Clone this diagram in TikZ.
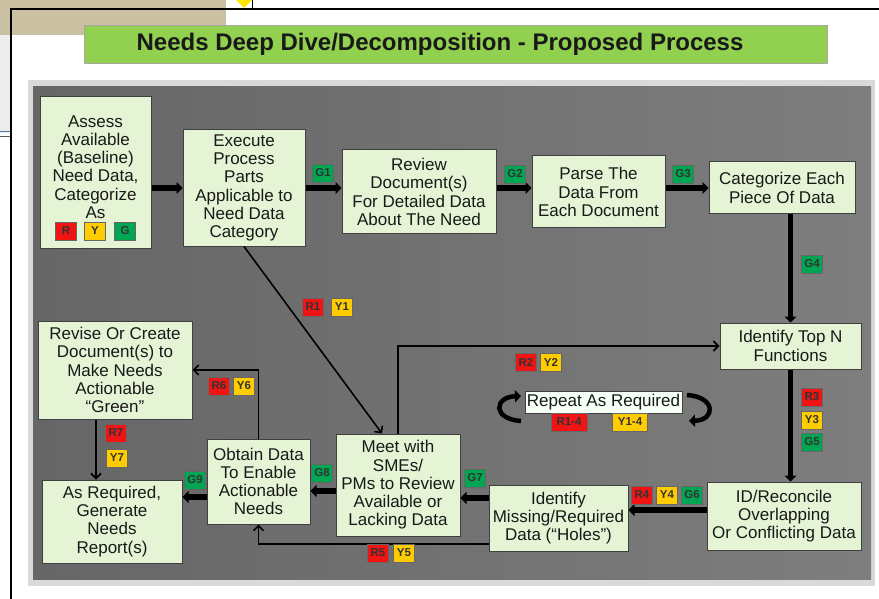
\documentclass[tikz,border=0pt]{standalone}
\usepackage{fontspec}
\setmainfont{Liberation Sans}
\usetikzlibrary{arrows.meta}
\definecolor{boxgreen}{HTML}{E4F4D4}
\definecolor{titlegreen}{HTML}{92D050}
\definecolor{tagred}{HTML}{F01414}
\definecolor{tagyellow}{HTML}{FFCC00}
\definecolor{taggreen}{HTML}{00A651}
\definecolor{tanbar}{HTML}{C9C1A2}
\definecolor{edgeblue}{HTML}{5273AE}
\begin{document}
\begin{tikzpicture}[x=1pt,y=-1pt,
    procbox/.style={draw=black!75,line width=1pt,fill=boxgreen,align=center,inner sep=0pt,
      text=black!90,font=\fontsize{17}{18.2}\selectfont},
    tag/.style={draw=black!60,line width=0.5pt,minimum width=21pt,minimum height=18pt,inner sep=0pt,
      text=black!80,font=\fontsize{11.5}{11.5}\selectfont\bfseries},
    rtag/.style={tag,fill=tagred},
    ytag/.style={tag,fill=tagyellow},
    gtag/.style={tag,fill=taggreen},
    bigarrow/.style={line width=5.5pt,-{Triangle[length=6pt,width=12pt]}},
    thinarrow/.style={line width=1.6pt,-{Straight Barb[length=5pt,width=10pt]}}]
    \useasboundingbox (0,0) rectangle (879,599);
    \fill[white] (0,0) rectangle (879,599);
    % screen behind the slide
    \fill[tanbar] (0,0) rectangle (226,35);
    \fill[black!7] (0,35) rectangle (11,133);
    \draw[edgeblue,line width=1pt] (0,132) -- (11,132);
    \draw[black!65,line width=0.8pt] (0,136) -- (11,136);
    \fill[yellow!90!orange] (236,0) -- (252,0) -- (244,8) -- cycle;
    \draw[line width=1.5pt] (252.5,0) -- (252.5,9);
    \draw[line width=2pt] (11,599) -- (11,9) -- (879,9);
    % title
    \node[fill=titlegreen,draw=black!35,line width=0.8pt,minimum width=743pt,minimum height=38pt] (titlebar) at (455.5,44) {};
    \node[font=\fontsize{24}{24}\selectfont\bfseries,text=black!90] (title) at (440,44) {Needs Deep Dive/Decomposition - Proposed Process};
    % panel
    \fill[black!15] (28,80) rectangle (875,586);
    \shade[left color={rgb,255:red,102;green,102;blue,102},right color={rgb,255:red,126;green,126;blue,126}] (33,87) rectangle (871,579);
    % process boxes
    \node[procbox,minimum width=111pt,minimum height=151pt] (assess) at (95.5,172.5)
        {Assess\\Available\\(Baseline)\\Need Data,\\Categorize\\As\\[-7pt]\mbox{}};
    \node[procbox,minimum width=122pt,minimum height=116pt] (execute) at (244,188)
        {Execute\\Process\\Parts\\Applicable to\\Need Data\\Category};
    \node[procbox,minimum width=154pt,minimum height=84pt] (review) at (419,192)
        {Review\\Document(s)\\For Detailed Data\\About The Need};
    \node[procbox,minimum width=133pt,minimum height=72pt] (parse) at (598.5,192)
        {Parse The\\Data From\\Each Document};
    \node[procbox,minimum width=146pt,minimum height=52pt] (categorize) at (782,188)
        {Categorize Each\\Piece Of Data};
    \node[procbox,minimum width=141pt,minimum height=46pt] (topn) at (790.5,346)
        {Identify Top N\\Functions};
    \node[procbox,minimum width=154pt,minimum height=68pt] (reconcile) at (784,516)
        {ID/Reconcile\\Overlapping\\Or Conflicting Data};
    \node[procbox,minimum width=139pt,minimum height=66pt] (missing) at (558.5,518)
        {Identify\\Missing/Required\\Data (“Holes”)};
    \node[procbox,minimum width=124pt,minimum height=102pt] (meet) at (398,485)
        {Meet with\\SMEs/\\PMs to Review\\Available or\\Lacking Data};
    \node[procbox,minimum width=103pt,minimum height=85pt] (obtain) at (258.5,481.5)
        {Obtain Data\\To Enable\\Actionable\\Needs};
    \node[procbox,minimum width=154pt,minimum height=98pt] (revise) at (115,370)
        {Revise Or Create\\Document(s) to\\Make Needs\\Actionable\\“Green”};
    \node[procbox,minimum width=140pt,minimum height=83pt] (report) at (112,521.5)
        {As Required,\\Generate\\Needs\\Report(s)};
    \node[procbox,fill=green!4,line width=0.7pt,minimum width=157pt,minimum height=22pt] (repeat) at (603.5,402)
        {Repeat As Required};
    % main flow
    \draw[bigarrow] (assess.east |- execute.west) -- (execute.west);
    \draw[bigarrow] (execute.east) -- (execute.east -| review.west);
    \draw[bigarrow] (review.east |- execute.east) -- (parse.west |- execute.east);
    \draw[bigarrow] (parse.east |- categorize.west) -- (categorize.west);
    \draw[bigarrow] (topn.north |- categorize.south) -- (topn.north);
    \draw[bigarrow] (topn.south) -- (topn.south |- reconcile.north);
    \draw[bigarrow] ([yshift=6pt]reconcile.west) -- ([yshift=6pt]reconcile.west -| missing.east);
    \draw[bigarrow] ([yshift=20pt]missing.west) -- ([yshift=20pt]missing.west -| meet.east);
    \draw[bigarrow] ([yshift=-6pt]meet.west) -- ([yshift=-6pt]meet.west -| obtain.east);
    \draw[bigarrow] ([yshift=-15.5pt]obtain.west) -- ([yshift=-15.5pt]obtain.west -| report.east);
    % side paths
    \draw[thinarrow] (execute.south) -- ([xshift=-16pt]meet.north);
    \draw[thinarrow] (meet.north) |- (topn.west);
    \draw[thinarrow] ([yshift=-26pt]missing.west) -| (obtain.south);
    \draw[thinarrow] (obtain.north) |- (revise.east);
    \draw[thinarrow] ([xshift=-19pt]revise.south) -- ([xshift=-19pt]revise.south |- report.north);
    % repeat loop marks
    \draw[bigarrow,line width=4.5pt] (521,421) .. controls (492,419) and (494,397) .. (521,396);
    \draw[bigarrow,line width=4.5pt] (687,395) .. controls (716,397) and (716,420) .. (689,421);
    % status tags
    \node[rtag] (tagr) at (66,231) {R};
    \node[ytag] (tagy) at (95,231) {Y};
    \node[gtag] (tagg) at (125,231) {G};
    \node[gtag] (g1) at (323,173) {G1};
    \node[gtag] (g2) at (515,174) {G2};
    \node[gtag] (g3) at (683,174) {G3};
    \node[gtag] (g4) at (812,264) {G4};
    \node[rtag] (r1) at (313,307) {R1};
    \node[ytag] (y1) at (342,307) {Y1};
    \node[rtag] (r2) at (526,362) {R2};
    \node[ytag] (y2) at (551,362) {Y2};
    \node[rtag] (r3) at (812,397) {R3};
    \node[ytag] (y3) at (812,420) {Y3};
    \node[gtag] (g5) at (812,442) {G5};
    \node[rtag,minimum width=36pt] (r14) at (569,422) {R1-4};
    \node[ytag,minimum width=35pt] (y14) at (630,422) {Y1-4};
    \node[rtag] (r4) at (642,495) {R4};
    \node[ytag] (y4) at (667,495) {Y4};
    \node[gtag] (g6) at (692,495) {G6};
    \node[gtag] (g7) at (475,478) {G7};
    \node[gtag] (g8) at (322,473) {G8};
    \node[gtag] (g9) at (195,480) {G9};
    \node[rtag] (r5) at (378,553) {R5};
    \node[ytag] (y5) at (404,553) {Y5};
    \node[rtag] (r6) at (219,386) {R6};
    \node[ytag] (y6) at (244,386) {Y6};
    \node[rtag] (r7) at (116,433) {R7};
    \node[ytag] (y7) at (117,458) {Y7};
\end{tikzpicture}
\end{document}
